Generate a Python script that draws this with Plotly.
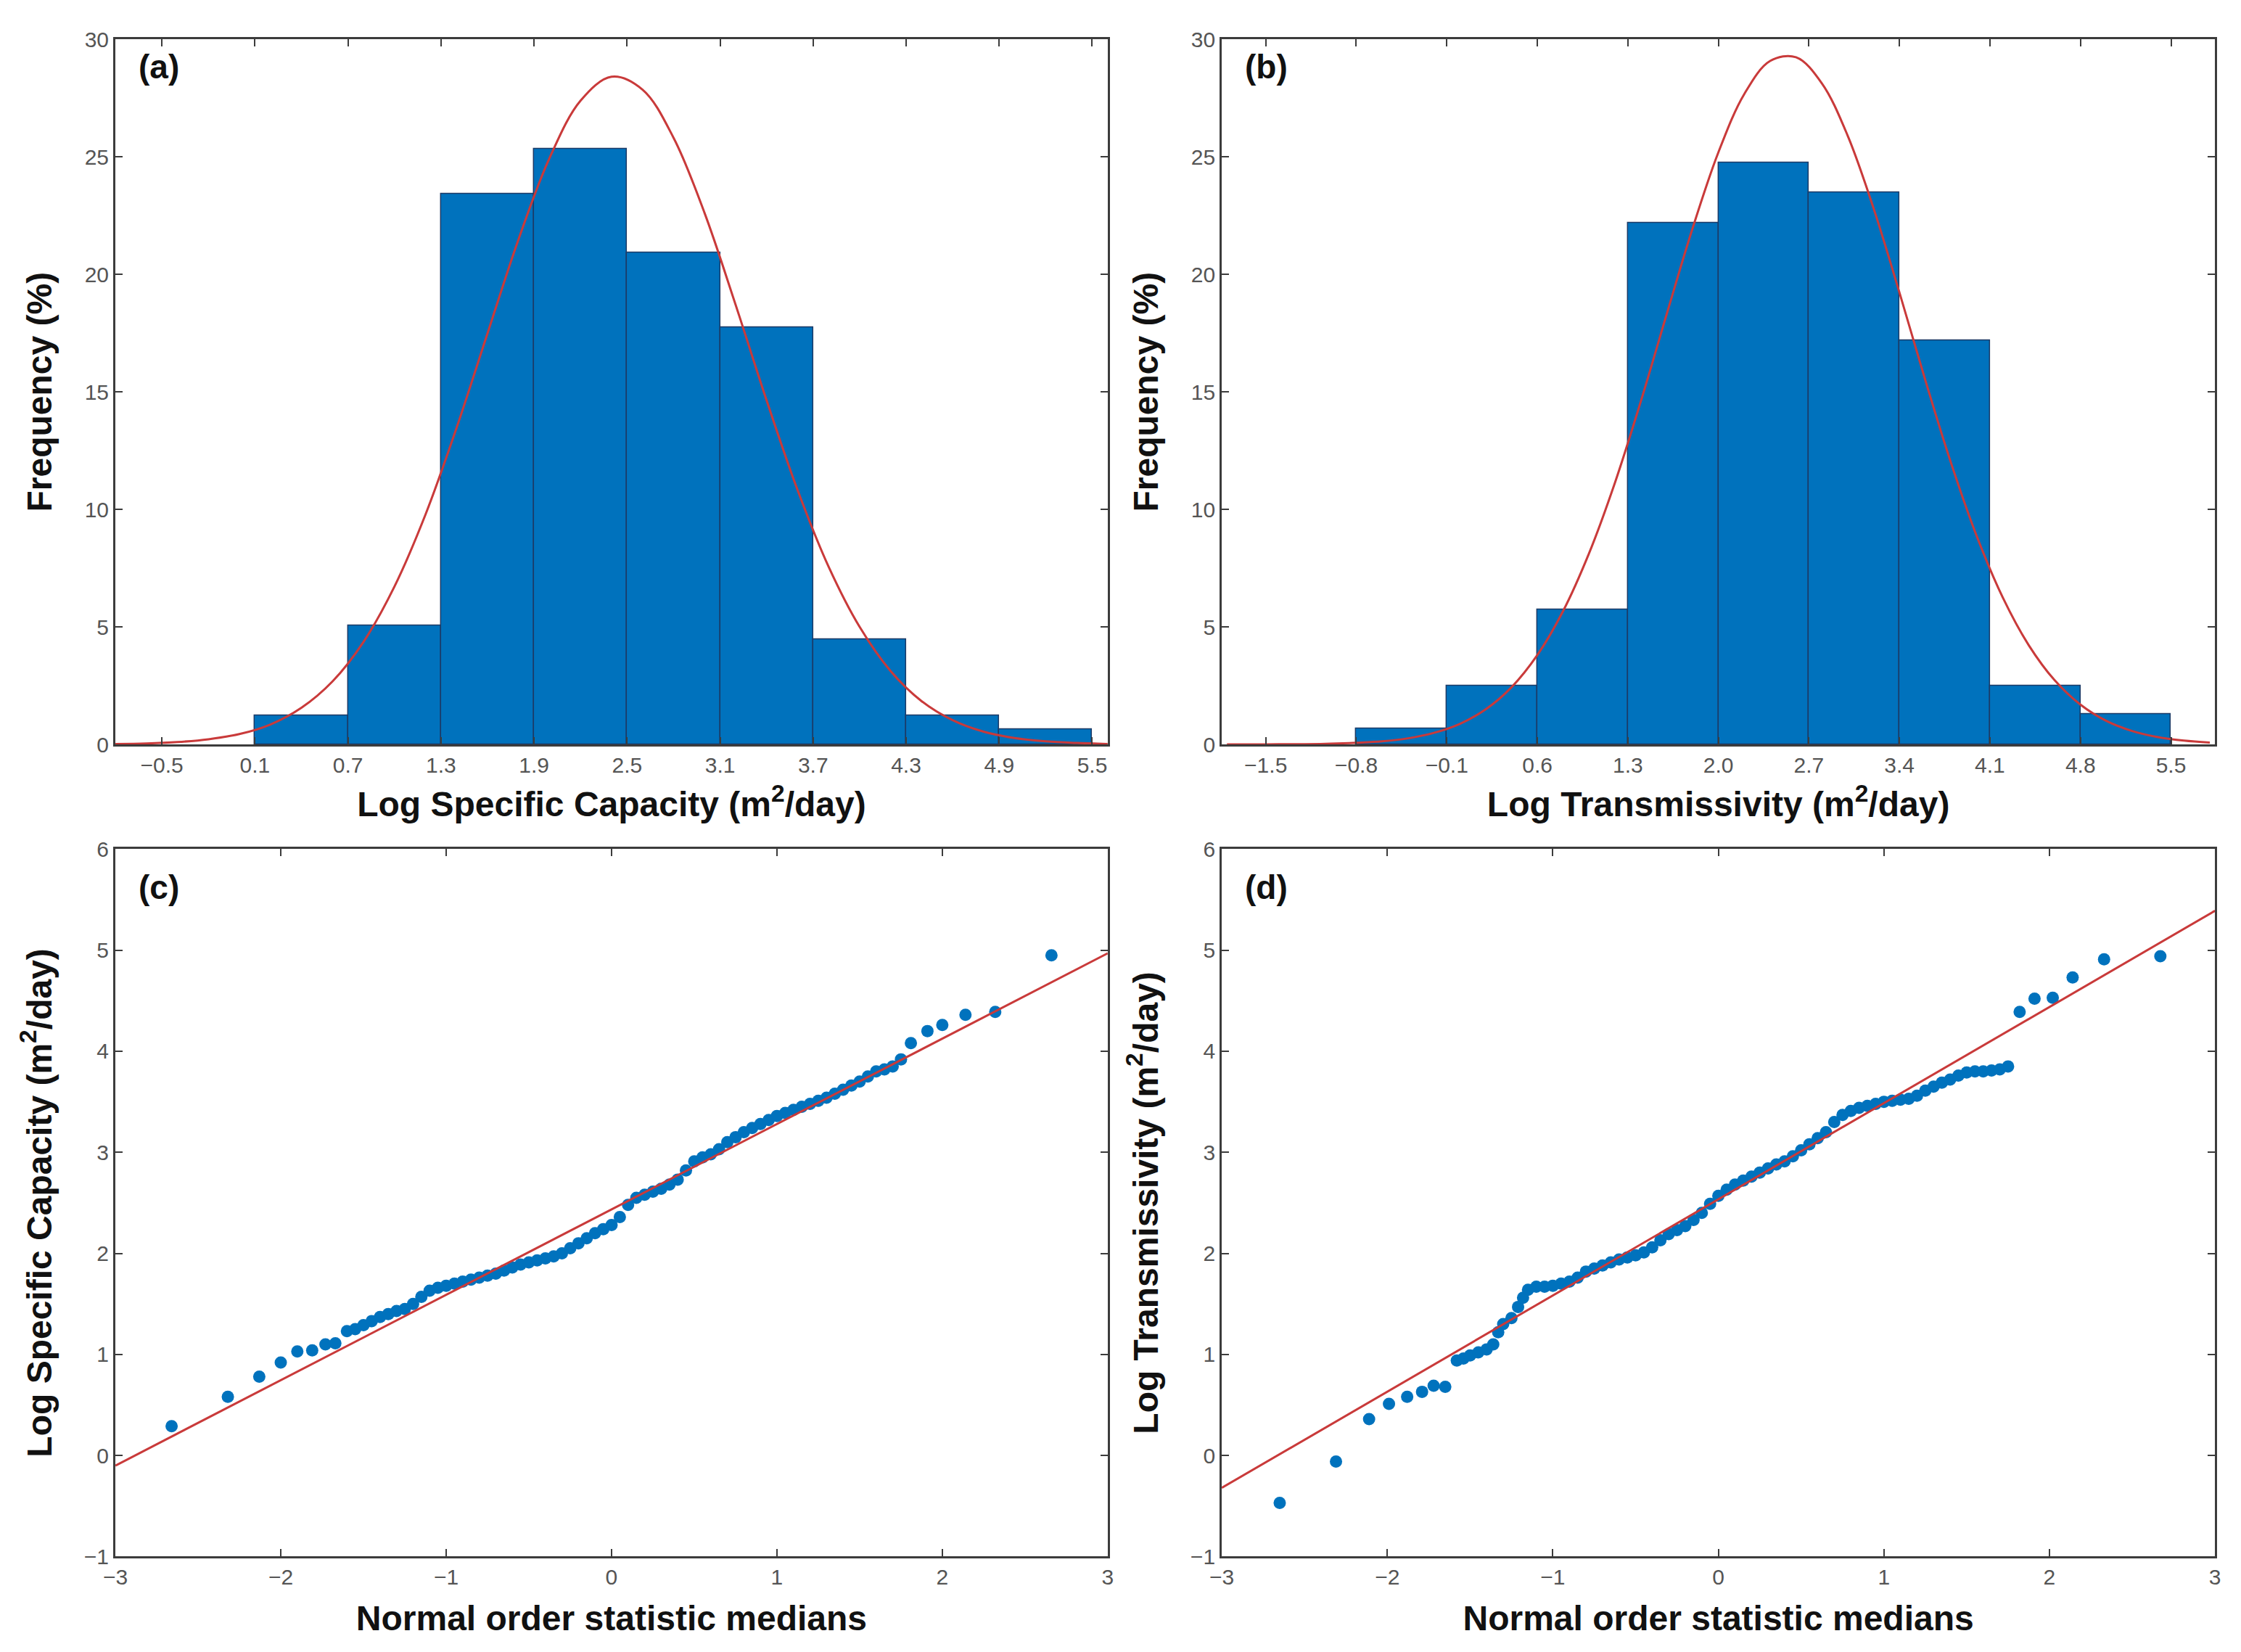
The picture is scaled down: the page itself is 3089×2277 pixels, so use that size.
import plotly.graph_objects as go

# histogram (a): log specific capacity
sc_edges = [0.1, 0.7, 1.3, 1.9, 2.5, 3.1, 3.7, 4.3, 4.9, 5.5]
sc_freq = [1.23, 5.07, 23.43, 25.35, 20.93, 17.76, 4.47, 1.23, 0.63]
sc_fit_x = [-0.8, -0.6, -0.4, -0.2, 0.0, 0.2, 0.4, 0.6, 0.8, 1.0, 1.2, 1.4, 1.6, 1.8, 2.0, 2.2,
            2.4, 2.6, 2.8, 3.0, 3.2, 3.4, 3.6, 3.8, 4.0, 4.2, 4.4, 4.6, 4.8, 5.0, 5.2, 5.4, 5.6]
sc_fit_y = [0.02, 0.04, 0.10, 0.22, 0.44, 0.85, 1.56, 2.68, 4.36, 6.72, 9.78, 13.46, 17.49, 21.49,
            24.95, 27.39, 28.41, 27.86, 25.81, 22.61, 18.71, 14.64, 10.82, 7.56, 5.00, 3.12, 1.84,
            1.03, 0.54, 0.27, 0.13, 0.06, 0.02]
sc_ticks = [-0.5, 0.1, 0.7, 1.3, 1.9, 2.5, 3.1, 3.7, 4.3, 4.9, 5.5]

# histogram (b): log transmissivity
tr_edges = [-0.8, -0.1, 0.6, 1.3, 2.0, 2.7, 3.4, 4.1, 4.8, 5.5]
tr_freq = [0.67, 2.5, 5.73, 22.2, 24.76, 23.49, 17.18, 2.5, 1.29]
tr_fit_x = [-1.8, -1.6, -1.4, -1.2, -1.0, -0.8, -0.6, -0.4, -0.2, 0.0, 0.2, 0.4, 0.6, 0.8, 1.0,
            1.2, 1.4, 1.6, 1.8, 2.0, 2.2, 2.4, 2.6, 2.8, 3.0, 3.2, 3.4, 3.6, 3.8, 4.0, 4.2, 4.4,
            4.6, 4.8, 5.0, 5.2, 5.4, 5.6, 5.8]
tr_fit_y = [0.0, 0.0, 0.01, 0.01, 0.03, 0.07, 0.13, 0.26, 0.49, 0.87, 1.49, 2.43, 3.80, 5.68,
            8.13, 11.13, 14.59, 18.30, 21.95, 25.19, 27.67, 29.08, 29.24, 28.13, 25.90, 22.81,
            19.23, 15.50, 11.96, 8.83, 6.24, 4.22, 2.73, 1.69, 1.00, 0.57, 0.31, 0.16, 0.08]
tr_ticks = [-1.5, -0.8, -0.1, 0.6, 1.3, 2.0, 2.7, 3.4, 4.1, 4.8, 5.5]

# probability plot (c): specific capacity
qq_sc_x = [-2.66, -2.32, -2.13, -2.0, -1.90, -1.81, -1.73, -1.67,
           -1.60, -1.55, -1.50, -1.45, -1.40, -1.35, -1.30, -1.25, -1.20, -1.15, -1.10, -1.05,
           -1.00, -0.95, -0.90, -0.85, -0.80, -0.75, -0.70, -0.65, -0.60, -0.55, -0.50, -0.45,
           -0.40, -0.35, -0.30, -0.25, -0.20, -0.15, -0.10, -0.05, 0.00, 0.05, 0.10, 0.15,
           0.20, 0.25, 0.30, 0.35, 0.40, 0.45, 0.50, 0.55, 0.60, 0.65, 0.70, 0.75, 0.80, 0.85,
           0.90, 0.95, 1.00, 1.05, 1.10, 1.15, 1.20, 1.25, 1.30, 1.35, 1.40, 1.45, 1.50, 1.55,
           1.60, 1.65, 1.70, 1.75,
           1.81, 1.91, 2.00, 2.14, 2.32, 2.66]
qq_sc_y = [0.29, 0.58, 0.78, 0.92, 1.03, 1.04, 1.10, 1.11,
           1.23, 1.25, 1.29, 1.33, 1.37, 1.40, 1.43, 1.45, 1.50, 1.57, 1.63, 1.66,
           1.68, 1.70, 1.72, 1.74, 1.76, 1.78, 1.80, 1.83, 1.86, 1.89, 1.91, 1.93,
           1.95, 1.97, 2.00, 2.05, 2.10, 2.15, 2.20, 2.24, 2.28, 2.36, 2.48, 2.55,
           2.58, 2.61, 2.64, 2.68, 2.73, 2.82, 2.91, 2.95, 2.98, 3.03, 3.10, 3.15, 3.20, 3.24,
           3.28, 3.32, 3.36, 3.39, 3.42, 3.45, 3.48, 3.51, 3.54, 3.58, 3.62, 3.66, 3.70, 3.75,
           3.80, 3.82, 3.85, 3.92,
           4.08, 4.20, 4.26, 4.36, 4.39, 4.95]
qq_sc_line_x = [-3, 3]
qq_sc_line_y = [-0.10, 4.97]

# probability plot (d): transmissivity
qq_tr_x = [-2.65, -2.31, -2.11, -1.99, -1.88, -1.79, -1.72, -1.65,
           -1.58, -1.54, -1.50, -1.45, -1.40, -1.36, -1.33, -1.30, -1.25, -1.21, -1.18, -1.15,
           -1.10, -1.05, -1.00, -0.95, -0.90, -0.85, -0.80, -0.75, -0.70, -0.65, -0.60, -0.55,
           -0.50, -0.45, -0.40, -0.35, -0.30, -0.25, -0.20, -0.15, -0.10, -0.05, 0.00, 0.05,
           0.10, 0.15, 0.20, 0.25, 0.30, 0.35, 0.40, 0.45, 0.50, 0.55, 0.60, 0.65, 0.70, 0.75,
           0.80, 0.85, 0.90, 0.95, 1.00, 1.05, 1.10, 1.15, 1.20, 1.25, 1.30, 1.35, 1.40, 1.45,
           1.50, 1.55, 1.60, 1.65, 1.70, 1.75,
           1.82, 1.91, 2.02, 2.14, 2.33, 2.67]
qq_tr_y = [-0.47, -0.06, 0.36, 0.51, 0.58, 0.63, 0.69, 0.68,
           0.94, 0.96, 0.99, 1.02, 1.05, 1.10, 1.22, 1.30, 1.36, 1.47, 1.56, 1.64,
           1.67, 1.67, 1.68, 1.70, 1.72, 1.76, 1.82, 1.85, 1.88, 1.91, 1.94, 1.96,
           1.98, 2.01, 2.06, 2.13, 2.19, 2.23, 2.27, 2.33, 2.40, 2.49, 2.57, 2.63,
           2.68, 2.72, 2.76, 2.80, 2.84, 2.88, 2.91, 2.96, 3.02, 3.08, 3.14, 3.20, 3.30, 3.37,
           3.41, 3.44, 3.46, 3.48, 3.50, 3.51, 3.52, 3.53, 3.56, 3.61, 3.65, 3.69, 3.72, 3.76,
           3.79, 3.80, 3.80, 3.81, 3.82, 3.85,
           4.39, 4.52, 4.53, 4.73, 4.91, 4.94]
qq_tr_line_x = [-3, 3]
qq_tr_line_y = [-0.32, 5.39]

BLUE = "#0072BD"
RED = "#C93A3A"
FRAME = "#3c3c3c"
TICKFONT = dict(family="Liberation Sans Narrow, Liberation Sans, Arial", size=30, color="#555555")
TITLEFONT = dict(family="Liberation Sans, Arial", size=48, color="#111111")


def centers(edges):
    return [(edges[i] + edges[i + 1]) / 2 for i in range(len(edges) - 1)]


fig = go.Figure()

fig.add_trace(go.Bar(x=centers(sc_edges), y=sc_freq, width=sc_edges[1] - sc_edges[0],
                     marker=dict(color=BLUE, line=dict(color="#1c3a66", width=1.5)),
                     xaxis="x", yaxis="y", showlegend=False))
fig.add_trace(go.Scatter(x=sc_fit_x, y=sc_fit_y, mode="lines", line=dict(color=RED, width=3, shape="spline"),
                         xaxis="x", yaxis="y", showlegend=False))

fig.add_trace(go.Bar(x=centers(tr_edges), y=tr_freq, width=tr_edges[1] - tr_edges[0],
                     marker=dict(color=BLUE, line=dict(color="#1c3a66", width=1.5)),
                     xaxis="x2", yaxis="y2", showlegend=False))
fig.add_trace(go.Scatter(x=tr_fit_x, y=tr_fit_y, mode="lines", line=dict(color=RED, width=3, shape="spline"),
                         xaxis="x2", yaxis="y2", showlegend=False))

fig.add_trace(go.Scatter(x=qq_sc_x, y=qq_sc_y, mode="markers", marker=dict(color=BLUE, size=17),
                         xaxis="x3", yaxis="y3", showlegend=False))
fig.add_trace(go.Scatter(x=qq_sc_line_x, y=qq_sc_line_y, mode="lines", line=dict(color=RED, width=3),
                         xaxis="x3", yaxis="y3", showlegend=False))

fig.add_trace(go.Scatter(x=qq_tr_x, y=qq_tr_y, mode="markers", marker=dict(color=BLUE, size=17),
                         xaxis="x4", yaxis="y4", showlegend=False))
fig.add_trace(go.Scatter(x=qq_tr_line_x, y=qq_tr_line_y, mode="lines", line=dict(color=RED, width=3),
                         xaxis="x4", yaxis="y4", showlegend=False))


def ax(domain, rng, title, standoff, **kw):
    return dict(domain=domain, range=rng, showline=True, linecolor=FRAME, linewidth=3, mirror="ticks",
                ticks="inside", ticklen=10, tickwidth=2, tickcolor=FRAME, showgrid=False, zeroline=False,
                automargin=False, tickfont=TICKFONT,
                title=dict(text=title, font=TITLEFONT, standoff=standoff), **kw)


sc_title = "<b>Log Specific Capacity (m<sup>2</sup>/day)</b>"
tr_title = "<b>Log Transmissivity (m<sup>2</sup>/day)</b>"
qq_xtitle = "<b>Normal order statistic medians</b>"

left_dom = [0.0489, 0.4917]
right_dom = [0.5426, 0.9858]
top_dom = [0.5529, 0.9797]
bot_dom = [0.0613, 0.4895]

fig.update_layout(
    width=3089, height=2277, margin=dict(l=0, r=0, t=0, b=0),
    paper_bgcolor="white", plot_bgcolor="white", bargap=0,
    xaxis=ax(left_dom, [-0.8, 5.6], sc_title, 22, tickvals=sc_ticks, tickformat=".1f", anchor="y"),
    yaxis=ax(top_dom, [0, 30], "<b>Frequency (%)</b>", 30, dtick=5, anchor="x"),
    xaxis2=ax(right_dom, [-1.84, 5.84], tr_title, 22, tickvals=tr_ticks, tickformat=".1f", anchor="y2"),
    yaxis2=ax(top_dom, [0, 30], "<b>Frequency (%)</b>", 30, dtick=5, anchor="x2"),
    xaxis3=ax(left_dom, [-3, 3], qq_xtitle, 24, dtick=1, anchor="y3"),
    yaxis3=ax(bot_dom, [-1, 6], "<b>Log Specific Capacity (m<sup>2</sup>/day)</b>", 30, dtick=1, anchor="x3"),
    xaxis4=ax(right_dom, [-3, 3], qq_xtitle, 24, dtick=1, anchor="y4"),
    yaxis4=ax(bot_dom, [-1, 6], "<b>Log Transmissivity (m<sup>2</sup>/day)</b>", 30, dtick=1, anchor="x4"),
)

label_y = [0.99, 0.99, 0.975, 0.975]
for i, lab in enumerate(["(a)", "(b)", "(c)", "(d)"]):
    suffix = "" if i == 0 else str(i + 1)
    fig.add_annotation(text="<b>" + lab + "</b>", xref="x" + suffix + " domain", yref="y" + suffix + " domain",
                       x=0.022, y=label_y[i], xanchor="left", yanchor="top", showarrow=False,
                       font=dict(family="Liberation Sans, Arial", size=46, color="#111111"))

fig.write_html("out.html")
